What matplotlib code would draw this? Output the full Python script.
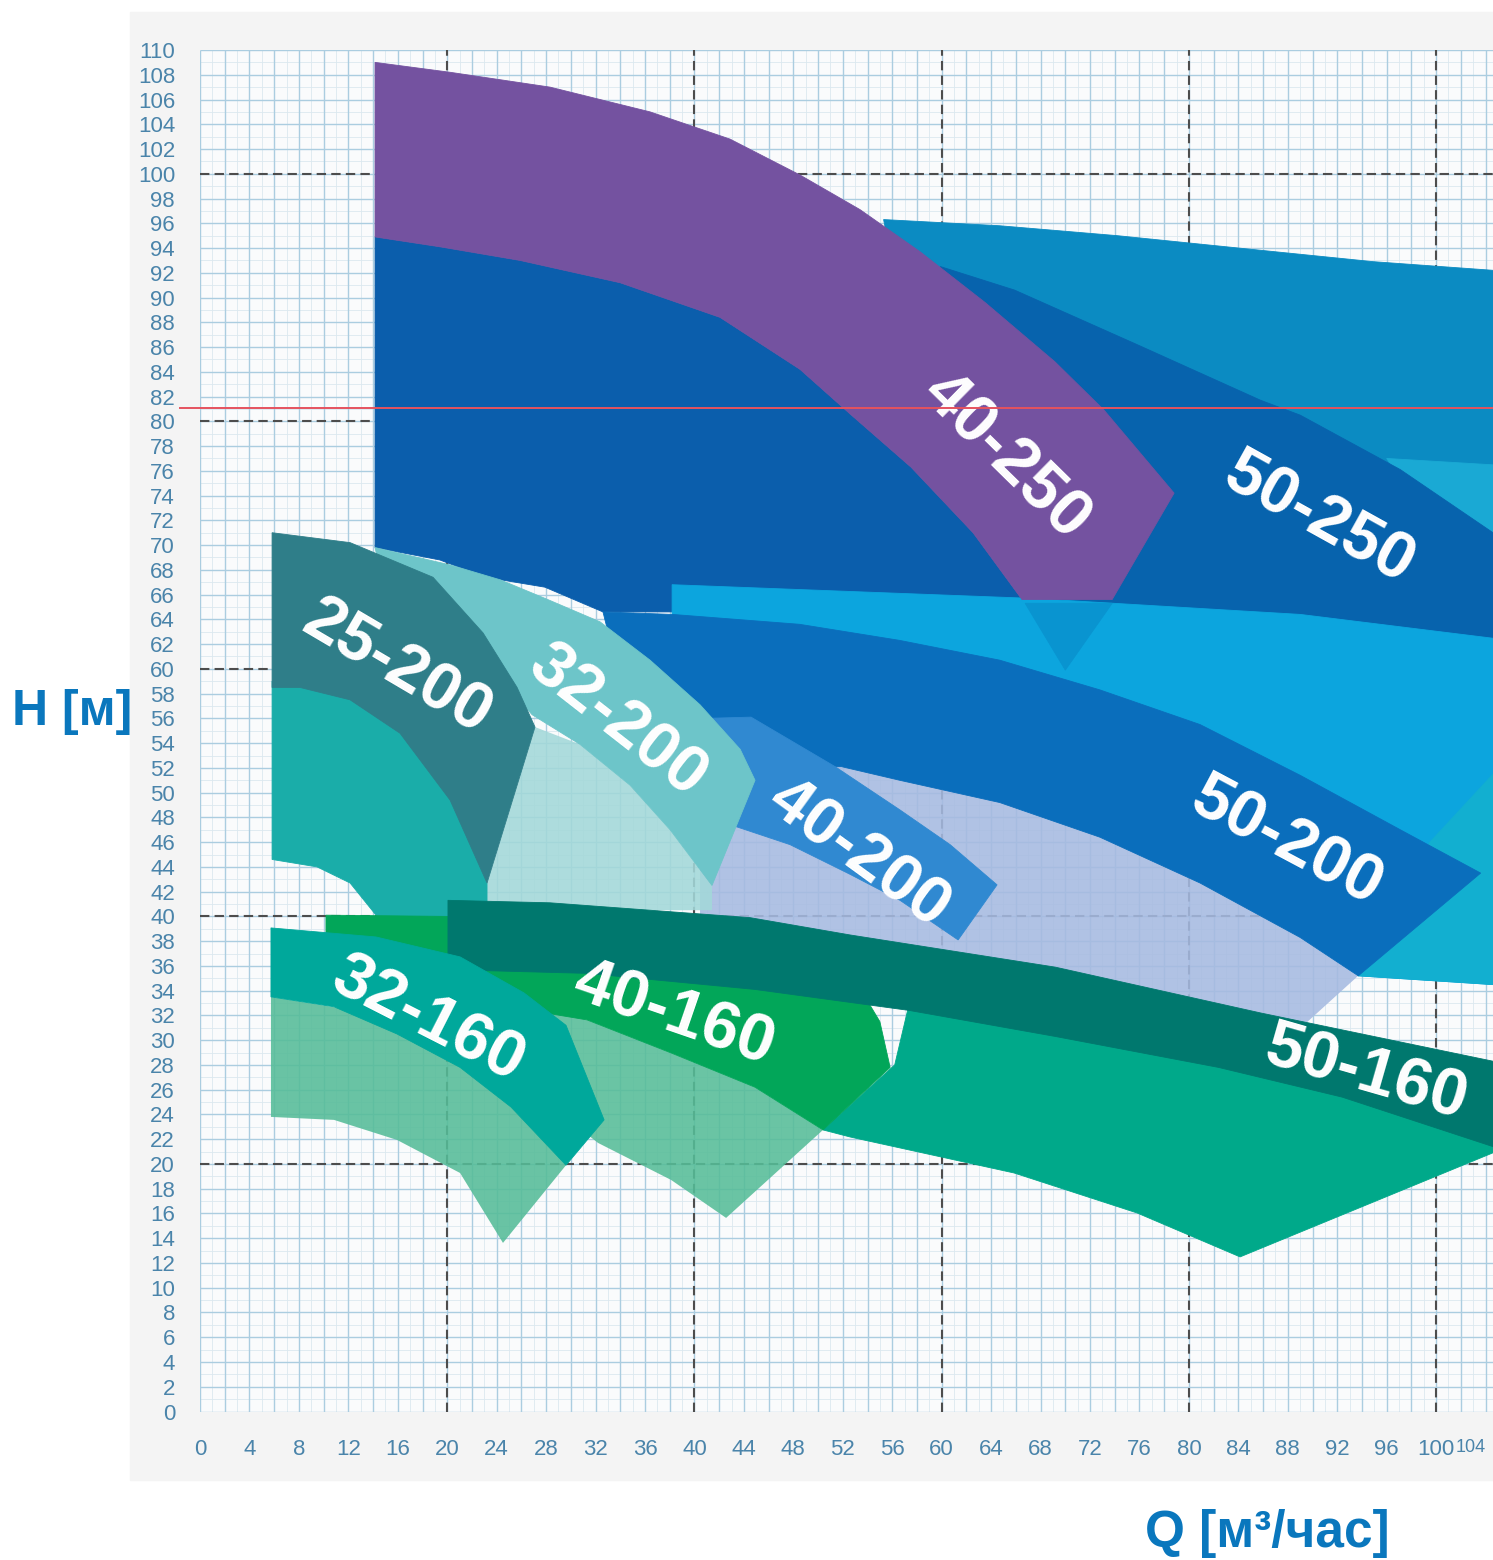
import matplotlib
matplotlib.use("Agg")
import matplotlib.pyplot as plt
from matplotlib.patches import Rectangle
import numpy as np

# outlines of the pump fields, Q [m3/h] vs H [m]
q_teal_250 = [55.3, 64.7, 74.2, 85.0, 94.9, 104.6, 106, 106, 72.8, 56.6]
h_teal_250 = [96.3, 95.8, 95.0, 93.9, 92.9, 92.2, 92.0, 62.3, 65.6, 89.8]

q_wedge_250 = [96.0, 106, 106, 97.0]
h_wedge_250 = [77.0, 76.4, 68.0, 75.5]

q_band_50_250 = [59.9, 65.9, 75.8, 85.8, 89.0, 97.1, 104.6, 106, 106, 89.0, 72.8, 67.2, 56.6]
h_band_50_250 = [92.5, 90.6, 86.2, 81.7, 80.5, 76.1, 71.0, 70.0, 62.3, 64.4, 65.2, 65.6, 85.8]

q_low_40_250 = [14.16, 14.16, 19.4, 23.1, 27.9, 32.6, 67.2, 66.5, 62.54, 57.52, 52.59, 48.54, 42.07, 33.98, 25.89, 19.42]
h_low_40_250 = [94.9, 69.8, 68.8, 67.4, 66.6, 64.6, 64.6, 65.6, 71.0, 76.3, 80.6, 84.2, 88.4, 91.2, 93.0, 94.1]

q_cyan_200 = [38.19, 67.15, 89.0, 106, 106, 93.69, 89.0, 64.7, 38.19]
h_cyan_200 = [66.8, 65.7, 64.4, 62.3, 34.4, 35.2, 45.0, 55.0, 60.0]

q_cyan_right = [99.5, 106, 106, 93.69]
h_cyan_right = [46.0, 53.0, 34.4, 35.2]

q_notch = [66.75, 73.79, 70.0]
h_notch = [65.3, 65.3, 59.9]

q_band_40_250 = [14.16, 20.23, 28.32, 36.41, 42.88, 48.54, 53.40, 58.25, 63.51, 69.17, 73.14, 78.80,
                 73.79, 66.50, 62.54, 57.52, 52.59, 48.54, 42.07, 33.98, 25.89, 19.42, 14.16]
h_band_40_250 = [109.0, 108.2, 107.0, 105.0, 102.8, 99.9, 97.1, 93.7, 89.6, 84.8, 80.9, 74.2,
                 65.6, 65.6, 71.0, 76.3, 80.6, 84.2, 88.4, 91.2, 93.0, 94.1, 94.9]

q_low_50_200 = [40.45, 51.94, 64.72, 72.82, 80.91, 89.0, 93.69, 88.5, 72.82, 56.63, 40.45]
h_low_50_200 = [52.7, 52.7, 49.8, 47.0, 43.4, 38.9, 35.2, 30.5, 33.9, 36.1, 38.1]

q_band_50_200 = [32.6, 38.2, 48.5, 56.6, 64.7, 72.8, 80.9, 89.0, 97.1, 103.6,
                 93.7, 89.0, 80.9, 72.8, 64.7, 56.6, 51.9, 45.0, 40.9, 33.0]
h_band_50_200 = [64.6, 64.4, 63.6, 62.3, 60.7, 58.3, 55.5, 51.4, 47.0, 43.5,
                 35.2, 38.3, 42.7, 46.4, 49.2, 51.0, 52.1, 52.0, 56.0, 63.0]

q_band_40_200 = [40.9, 44.58, 51.38, 56.63, 60.68, 64.48, 61.33, 56.63, 52.59, 47.73, 43.53, 40.9]
h_band_40_200 = [56.0, 56.1, 52.1, 48.6, 45.8, 42.55, 38.1, 41.3, 43.4, 45.8, 47.2, 48.0]

q_low_32_200 = [27.10, 30.74, 34.79, 38.03, 41.42, 41.42, 23.22, 23.22]
h_low_32_200 = [55.3, 53.9, 50.6, 47.0, 42.5, 40.5, 40.5, 42.7]

q_band_32_200 = [14.16, 20.23, 24.27, 27.9, 32.36, 36.41, 40.45, 43.7, 44.9,
                 41.42, 38.03, 34.79, 30.74, 26.86, 22.0, 15.0]
h_band_32_200 = [69.8, 68.4, 67.2, 65.7, 63.8, 60.7, 57.1, 53.5, 51.0,
                 42.5, 47.0, 50.6, 53.9, 56.3, 62.0, 66.0]

q_low_25_200 = [5.83, 8.09, 12.14, 16.18, 20.23, 23.22, 23.22, 14.32, 12.14, 9.47, 5.83]
h_low_25_200 = [59.0, 59.0, 58.0, 55.3, 50.0, 42.7, 40.0, 40.0, 42.7, 44.0, 44.6]

q_band_25_200 = [5.83, 12.14, 18.85, 22.90, 25.65, 27.10, 23.22, 20.23, 16.18, 12.14, 8.09, 5.83]
h_band_25_200 = [71.0, 70.2, 67.4, 62.9, 58.5, 55.3, 42.7, 49.4, 54.8, 57.5, 58.5, 58.5]

q_low_50_160 = [20.06, 31.3, 44.9, 57.4, 69.2, 82.4, 92.4, 104.6, 106, 106, 104.6,
                84.14, 75.81, 65.86, 52.59, 50.40, 56.2, 57.5, 40.0]
h_low_50_160 = [37.5, 37.4, 36.1, 34.4, 32.3, 29.8, 27.4, 23.4, 23.0, 21.5, 20.9,
                12.49, 16.04, 19.27, 22.18, 22.75, 28.0, 33.5, 34.0]

q_low_40_160 = [21.0, 31.31, 38.11, 44.9, 50.40, 42.56, 38.11, 32.2, 28.0, 21.0]
h_low_40_160 = [34.5, 31.64, 28.97, 26.2, 22.75, 15.64, 18.71, 21.7, 25.0, 30.0]

q_low_32_160 = [5.74, 5.74, 10.84, 15.94, 21.04, 24.51, 29.61, 26.0, 15.0]
h_low_32_160 = [33.5, 23.8, 23.56, 21.94, 19.27, 13.62, 19.9, 25.5, 32.0]

q_band_40_160 = [10.19, 20.06, 32.4, 44.5, 52.6, 55.0, 55.83, 50.40, 44.9, 38.11, 31.31, 23.14, 16.2, 10.19]
h_band_40_160 = [40.1, 40.0, 39.3, 37.7, 35.5, 31.5, 27.8, 22.75, 26.2, 28.97, 31.64, 33.0, 34.0, 34.5]

q_band_50_160 = [20.06, 28.3, 36.4, 44.5, 52.6, 69.2, 85.8, 104.6, 106, 106,
                 104.6, 92.4, 82.4, 69.2, 57.4, 44.9, 31.3, 20.06]
h_band_50_160 = [41.3, 41.1, 40.5, 39.9, 38.5, 35.9, 32.2, 28.3, 28.0, 21.0,
                 21.4, 25.4, 27.8, 30.3, 32.4, 34.1, 35.4, 35.7]

q_band_32_160 = [5.74, 14.24, 21.04, 26.21, 29.61, 32.69, 29.61, 25.16, 21.04, 15.94, 10.84, 5.74]
h_band_32_160 = [39.07, 38.34, 36.73, 33.82, 31.2, 23.56, 19.9, 24.6, 27.8, 30.5, 32.7, 33.5]

# pump model labels
labels = ["40-250", "50-250", "25-200", "32-200", "40-200", "50-200", "32-160", "40-160", "50-160"]
label_q = [65.1, 90.5, 15.9, 33.7, 53.2, 87.9, 18.4, 38.3, 94.4]
label_h = [77.1, 72.0, 60.0, 55.7, 45.0, 45.9, 31.6, 32.0, 27.2]
label_rot = [-44.5, -29, -30.5, -38, -36, -28, -27, -19, -16]

h_limit = 81.1  # red reference line

fields = [
    (q_teal_250, h_teal_250, "#0B8BC2", 1.0),
    (q_wedge_250, h_wedge_250, "#1AA9D4", 1.0),
    (q_band_50_250, h_band_50_250, "#0763AD", 1.0),
    (q_low_40_250, h_low_40_250, "#0B5EAC", 1.0),
    (q_cyan_200, h_cyan_200, "#0CA5DE", 1.0),
    (q_cyan_right, h_cyan_right, "#12AFD0", 1.0),
    (q_notch, h_notch, "#0994D0", 1.0),
    (q_band_40_250, h_band_40_250, "#7452A0", 1.0),
    (q_low_50_200, h_low_50_200, "#A6BAE1", 0.88),
    (q_band_50_200, h_band_50_200, "#0A6EBC", 1.0),
    (q_band_40_200, h_band_40_200, "#3089D1", 1.0),
    (q_low_32_200, h_low_32_200, "#A3D8D9", 0.88),
    (q_band_32_200, h_band_32_200, "#6DC5C9", 1.0),
    (q_low_25_200, h_low_25_200, "#1AADA9", 1.0),
    (q_band_25_200, h_band_25_200, "#2F7E89", 1.0),
    (q_low_50_160, h_low_50_160, "#00A98A", 1.0),
    (q_low_40_160, h_low_40_160, "#56BD98", 0.88),
    (q_low_32_160, h_low_32_160, "#55BC98", 0.88),
    (q_band_40_160, h_band_40_160, "#02A659", 1.0),
    (q_band_50_160, h_band_50_160, "#00786E", 1.0),
    (q_band_32_160, h_band_32_160, "#00A89B", 1.0),
]

W, H = 1493, 1560
fig = plt.figure(figsize=(W / 100, H / 100), dpi=100)
fig.patch.set_facecolor("white")
fig.patches.append(Rectangle((130 / W, 1 - 1480 / H), 1 - 130 / W, (1480 - 12) / H,
                             transform=fig.transFigure, color="#F4F4F4", zorder=-10))

ax = fig.add_axes([200 / W, 1 - 1411.5 / H, 1 - 200 / W, (1411.5 - 50) / H])
ax.set_facecolor("#FAFBFC")
ax.set_xlim(0, 104.6)
ax.set_ylim(0, 110)
for s in ax.spines.values():
    s.set_visible(False)

# graph paper
ax.vlines(np.arange(1, 105, 2), 0, 110, colors="#DCE8EF", lw=0.6, zorder=0)
ax.hlines(np.arange(1, 110, 2), 0, 106, colors="#DCE8EF", lw=0.6, zorder=0)
ax.vlines(np.arange(0, 105, 2), 0, 110, colors="#ABCDE0", lw=1.0, zorder=0)
ax.hlines(np.arange(0, 111, 2), 0, 106, colors="#ABCDE0", lw=1.0, zorder=0)
ax.vlines([20, 40, 60, 80, 100], 0, 110, colors="#4D4D4D", lw=1.5,
          linestyles=(0, (4.5, 2.5)), zorder=1)
ax.hlines([20, 40, 60, 80, 100], 0, 106, colors="#4D4D4D", lw=1.5,
          linestyles=(0, (4.5, 2.5)), zorder=1)

for i, (q, h, c, a) in enumerate(fields):
    if a < 1:
        ax.fill(q, h, color=c, alpha=a, lw=0, zorder=2 + i * 0.01)
    else:
        ax.fill(q, h, facecolor=c, edgecolor=c, lw=0.6, zorder=2 + i * 0.01)

for t, q, h, r in zip(labels, label_q, label_h, label_rot):
    ax.text(q, h, t, color="white", fontsize=48, fontweight="bold", family="Liberation Sans",
            rotation=r, rotation_mode="anchor", ha="center", va="center", zorder=5)

ax.plot([-1.6, 104.6], [h_limit, h_limit], color="#E5525E", lw=1.4, zorder=6, clip_on=False)

ax.set_xticks(np.arange(0, 105, 4))
ax.set_yticks(np.arange(0, 111, 2))
ax.tick_params(length=0, labelsize=16, labelcolor="#4A84AA")
ax.tick_params(axis="y", pad=18)
ax.tick_params(axis="x", pad=20)
for lb in ax.get_xticklabels() + ax.get_yticklabels():
    lb.set_family("Liberation Sans")
# last Q label sits at the right edge; keep it inside the picture
last = ax.get_xticklabels()[-1]
last.set_horizontalalignment("right")
last.set_fontsize(13)

fig.text(72 / W, 1 - 712 / H, "H [м]", color="#0A77BD", fontsize=36, fontweight="bold",
         family="Liberation Sans", ha="center", va="center")
fig.text(1267 / W, 1 - 1533 / H, "Q [м³/час]", color="#0A77BD", fontsize=37, fontweight="bold",
         family="Liberation Sans", ha="center", va="center")

fig.savefig("out.png", dpi=100)
